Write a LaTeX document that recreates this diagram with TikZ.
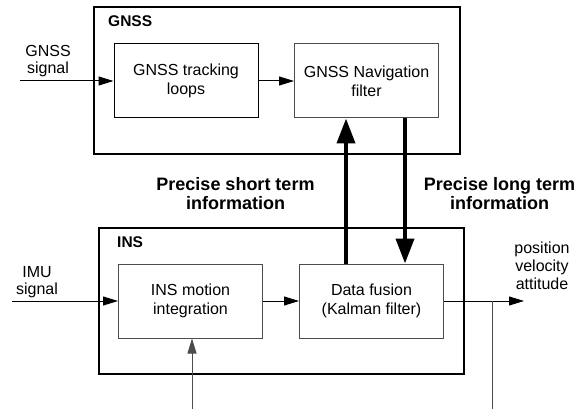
\documentclass[tikz,border=0pt]{standalone}
\usepackage{fontspec}
\setmainfont{Liberation Sans}
\usetikzlibrary{positioning,arrows.meta}

\begin{document}
\begin{tikzpicture}[x=1pt,y=-1pt,on grid,
    block/.style={draw=black!70,line width=1pt,minimum width=144pt,minimum height=74pt,
      align=center,font=\fontsize{16pt}{19pt}\selectfont},
    outer/.style={draw,line width=2.5pt},
    title/.style={inner sep=0pt,font=\bfseries\fontsize{15.5pt}{18pt}\selectfont},
    txt/.style={inner sep=0pt,align=center,font=\fontsize{16pt}{17pt}\selectfont},
    info/.style={inner sep=0pt,align=center,font=\bfseries\fontsize{18pt}{19pt}\selectfont},
    sig/.style={line width=1pt,-{Triangle[length=15pt,width=9pt]}},
    big/.style={line width=4pt,-{Triangle[length=25pt,width=18pt]}}]
  \useasboundingbox (0,0) rectangle (576,409);
  % GNSS part
  \node[outer,minimum width=366pt,minimum height=147pt] (gnss) at (277,80.5) {};
  \node[title,anchor=west] (gnsslbl) at (108,21) {GNSS};
  \node[block,draw=black] (trk) at (186,81) {GNSS tracking\\loops};
  \node[block] (nav) [right=180.5pt of trk] {GNSS Navigation\\filter};
  % INS part
  \node[outer,minimum width=365pt,minimum height=146pt] (ins) at (281.5,301) {};
  \node[title,anchor=west] (inslbl) at (117,242) {INS};
  \node[block] (mot) at (190.5,301) {INS motion\\integration};
  \node[block] (fus) [right=181pt of mot] {Data fusion\\(Kalman filter)};
  % signals
  \node[txt] (gnsssig) at (48,61) {GNSS\\signal};
  \node[txt] (imusig) at (37,282) {IMU\\signal};
  \node[txt,font=\fontsize{16pt}{18pt}\selectfont] (pva) at (542,266) {position\\velocity\\attitude};
  \coordinate (gin) at (20,81);
  \coordinate (iin) at (12,301);
  \coordinate (out) at (524,301);
  \coordinate (br) at (492,301);
  \coordinate (brend) at (492,409);
  \coordinate (aux) at (192,409);
  \draw[sig] (gin) -- (trk);
  \draw[sig] (trk) -- (nav);
  \draw[sig] (iin) -- (mot);
  \draw[sig] (mot) -- (fus);
  \draw[sig] (fus) -- (out);
  \draw[line width=1pt,draw=black!70] (br) -- (brend);
  \draw[sig,draw=black!70] (aux) -- (aux |- mot.south);
  % exchange between both filters
  \draw[big] ([xshift=-25.5pt]fus.north) -- ([xshift=-20.5pt]nav.south);
  \draw[big] ([xshift=38.5pt]nav.south) -- ([xshift=33.5pt]fus.north);
  \node[info] (short) at (235.5,194) {Precise short term\\information};
  \node[info] (long) at (499.5,194) {Precise long term\\information};
\end{tikzpicture}
\end{document}
